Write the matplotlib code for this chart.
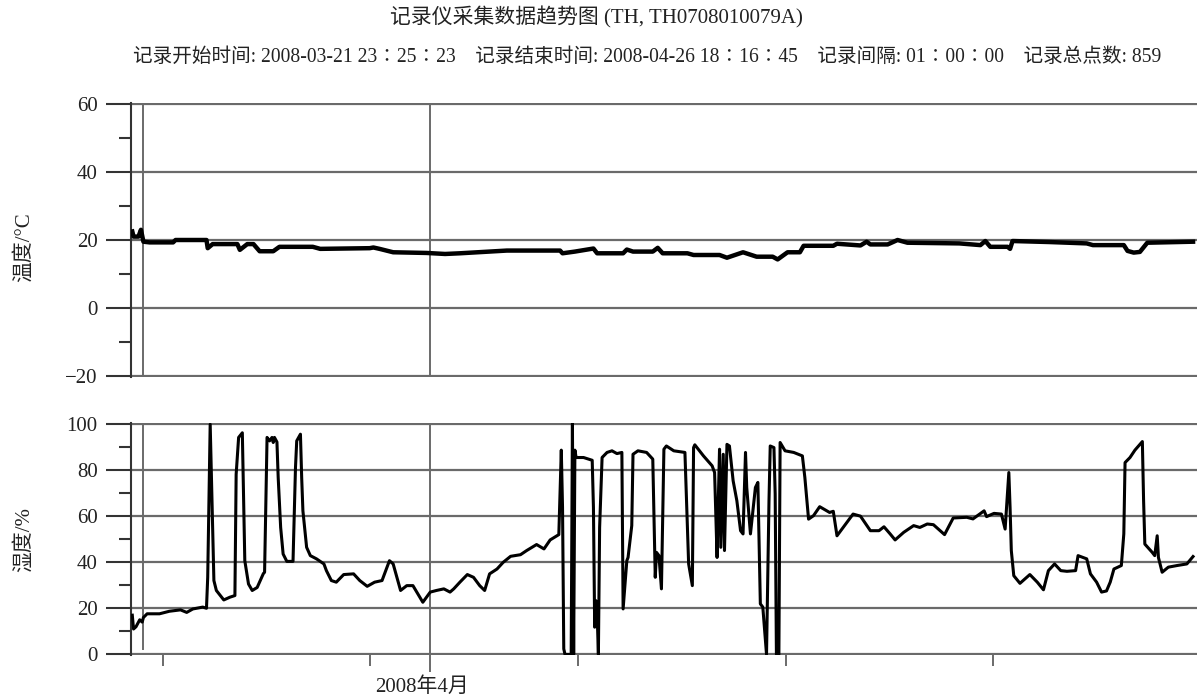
import datetime as dt
import matplotlib
matplotlib.use('Agg')
import matplotlib.pyplot as plt
import matplotlib.dates as mdates
import matplotlib.transforms as mtransforms
from matplotlib.ticker import MultipleLocator, FuncFormatter

plt.rcParams['font.family'] = ['Liberation Serif', 'Noto Sans CJK SC']

# record info
start = dt.datetime(2008, 3, 21, 23, 25, 23)
n_points = 859
cursor_hour = 8.4   # vertical marker line near the start

# temperature (hour index since start, value in °C)
temp_h = [0, 1, 5, 7, 9, 14, 33, 35, 60, 61,
          65, 85, 87, 93, 98, 103, 114, 119, 146, 152,
          192, 195, 200, 211, 238, 253, 265, 303, 346, 348,
          358, 373, 376, 397, 400, 405, 421, 425, 429, 449,
          454, 475, 481, 494, 505, 518, 522, 530, 540, 543,
          567, 570, 589, 594, 597, 611, 619, 627, 669, 686,
          690, 694, 708, 710, 712, 742, 772, 777, 802, 805,
          810, 815, 821, 858]
temp_v = [22.5, 21, 21, 23, 19.5, 19.3, 19.3, 20, 20, 17.6,
          18.8, 18.8, 17.1, 18.8, 18.8, 16.7, 16.7, 18, 18, 17.4,
          17.6, 17.8, 17.4, 16.4, 16.2, 15.9, 16.1, 16.9, 16.9, 16.1,
          16.6, 17.5, 16.1, 16.1, 17.2, 16.6, 16.6, 17.7, 16.1, 16.1,
          15.6, 15.6, 14.8, 16.4, 15.1, 15.1, 14.3, 16.4, 16.4, 18.3,
          18.3, 18.9, 18.4, 19.5, 18.7, 18.7, 20, 19.2, 19.0, 18.5,
          19.7, 18.0, 18.0, 17.4, 19.7, 19.4, 19.0, 18.5, 18.5, 16.8,
          16.3, 16.5, 19.2, 19.5]

# humidity (hour index since start, value in %)
hum_h = [0, 1, 3, 6, 8, 9, 12, 22, 30, 39,
         44, 49, 57, 60, 61, 63, 65, 66, 68, 74,
         79, 83, 84, 86, 89, 90, 91, 94, 97, 101,
         106, 107, 109, 111, 113, 114, 115, 117, 118, 120,
         122, 125, 130, 132, 133, 136, 137, 138, 141, 144,
         149, 155, 157, 161, 165, 171, 179, 184, 190, 196,
         202, 208, 211, 214, 217, 222, 227, 231, 235, 238,
         241, 246, 252, 257, 260, 265, 271, 276, 281, 285,
         289, 295, 300, 306, 314, 319, 327, 333, 338, 345,
         347, 348, 349, 350, 355, 356, 357, 358, 359, 365,
         372, 373, 374, 375, 376, 377, 378, 380, 384, 388,
         392, 396, 397, 400, 401, 404, 405, 409, 416, 421,
         423, 424, 426, 428, 430, 432, 438, 443, 447, 450,
         453, 454, 455, 462, 469, 471, 473, 474, 475, 476,
         478, 479, 481, 483, 486, 489, 492, 494, 496, 497,
         500, 504, 506, 508, 510, 513, 515, 516, 519, 520,
         521, 523, 524, 528, 535, 542, 544, 547, 551, 556,
         564, 567, 570, 575, 583, 589, 597, 604, 608, 613,
         617, 624, 632, 637, 643, 648, 657, 664, 675, 680,
         689, 691, 697, 703, 706, 709, 710, 711, 713, 718,
         726, 732, 737, 741, 746, 751, 756, 763, 765, 772,
         775, 780, 784, 788, 791, 794, 800, 802, 803, 807,
         811, 817, 818, 819, 825, 827, 829, 830, 833, 838,
         845, 853, 858]
hum_v = [17, 11, 12, 15, 14, 16, 17.6, 17.6, 18.7, 19.3,
         18.2, 19.7, 20.5, 20, 33.4, 99.7, 55, 32, 27.7, 23.6,
         24.8, 25.5, 78, 94, 96, 69, 40.6, 30.5, 27.7, 29,
         35, 35.6, 94, 92.5, 94, 91.8, 94, 92, 76.7, 55,
         43.5, 40.3, 40.3, 81, 92.5, 95.4, 76.7, 62.2, 46.4, 42.8,
         41.4, 39.2, 36.3, 32, 31.3, 34.6, 34.9, 32, 29.5, 31.3,
         32, 40.6, 39.2, 33.4, 27.7, 29.8, 29.8, 26.2, 22.6, 24.8,
         27, 27.7, 28.4, 27, 28.4, 31.3, 34.6, 33.4, 29.8, 27.7,
         34.9, 37, 39.9, 42.5, 43.2, 45, 47.6, 45.7, 49.6, 51.9,
         88.5, 63.7, 2.4, 0, 0, 100, 0, 88.5, 85.3, 85.3,
         84.1, 63.7, 11.8, 23.3, 17.6, 0, 55, 85.3, 87.5, 88.2,
         87, 87.5, 19.7, 40.6, 42, 55.8, 86.7, 88.2, 87.5, 84.6,
         33.4, 44.2, 42.8, 28.4, 88.9, 90.3, 88.2, 87.8, 87.5, 39.2,
         29.8, 89.6, 90.8, 86, 81.7, 78.8, 42, 66.6, 88.9, 46.4,
         86.7, 45, 91, 90.3, 75.2, 66.6, 53.6, 52.2, 87.5, 72.3,
         52.2, 72.3, 74.5, 21.9, 20.5, 0, 66.6, 90.3, 89.6, 69.5,
         0, 0, 91.8, 88.2, 87.5, 86, 76.7, 58.6, 60.1, 64,
         61.5, 62, 51.4, 55, 60.8, 59.9, 53.6, 53.6, 55.3, 52.2,
         49.6, 52.9, 55.8, 55, 56.5, 56.2, 51.9, 59.1, 59.4, 58.7,
         62.2, 59.7, 61.1, 60.8, 54.3, 78.8, 63.7, 45, 34.1, 30.8,
         34.6, 31.3, 28, 36.3, 39.2, 36.3, 36, 36.3, 42.8, 41.4,
         34.9, 31.3, 27, 27.5, 31.3, 37, 38.5, 52.2, 83.1, 85.3,
         88.5, 92.2, 66.6, 47.8, 44.2, 42.8, 51.4, 42, 35.6, 37.8,
         38.5, 39.2, 42.4]

title = '记录仪采集数据趋势图 (TH, TH0708010079A)'
subtitle = ('记录开始时间: 2008-03-21 23∶25∶23    记录结束时间: 2008-04-26 18∶16∶45    '
            '记录间隔: 01∶00∶00    记录总点数: 859')


def to_time(hours):
    return [start + dt.timedelta(hours=h) for h in hours]


grid_c = '#6a6a6a'
axis_c = '#333333'

fig = plt.figure(figsize=(12, 7), dpi=100)
ax1 = fig.add_axes([131 / 1200, 1 - 377 / 700, 1066 / 1200, 274 / 700])
ax2 = fig.add_axes([131 / 1200, 1 - 655 / 700, 1066 / 1200, 232 / 700])

x0 = start - dt.timedelta(hours=1.05)
x1 = start + dt.timedelta(hours=n_points - 1 + 3.2)
cursor = start + dt.timedelta(hours=cursor_hour)

ax1.plot(to_time(temp_h), temp_v, color='black', lw=3.2, solid_joinstyle='round', zorder=3)
ax2.plot(to_time(hum_h), hum_v, color='black', lw=2.2, solid_joinstyle='round', zorder=3)

ax1.set_ylim(-20.2, 60.2)
ax2.set_ylim(-0.25, 100.25)

for ax, step in ((ax1, 20), (ax2, 20)):
    ax.set_xlim(x0, x1)
    ax.yaxis.set_major_locator(MultipleLocator(step))
    ax.yaxis.set_minor_locator(MultipleLocator(step / 2))
    ax.xaxis.set_major_locator(mdates.MonthLocator(bymonthday=1))
    ax.xaxis.set_minor_locator(mdates.WeekdayLocator(byweekday=mdates.SU))
    ax.grid(axis='y', which='major', color=grid_c, lw=1.6)
    ax.grid(axis='x', which='major', color=grid_c, lw=1.4)
    ax.set_axisbelow(True)
    for s in ('top', 'right', 'bottom'):
        ax.spines[s].set_visible(False)
    ax.spines['left'].set_color(axis_c)
    ax.spines['left'].set_linewidth(1.5)
    ax.tick_params(axis='y', which='major', length=18, width=1.5, color=axis_c,
                   labelsize=15, pad=6, labelcolor='#222222')
    ax.tick_params(axis='y', which='minor', length=9, width=1.5, color=axis_c)

ax1.axvline(cursor, color=grid_c, lw=1.4, zorder=1)
ax2.axvline(cursor, ymin=0.025, color=grid_c, lw=1.4, zorder=1)

ax1.tick_params(axis='x', which='both', length=0, labelbottom=False)
ax2.tick_params(axis='x', which='major', length=12, width=1.4, color=grid_c,
                labelsize=15, pad=4, labelcolor='#222222')
ax2.tick_params(axis='x', which='minor', length=8, width=1.4, color=grid_c)
ax2.xaxis.set_major_formatter(FuncFormatter(
    lambda v, pos: '{}年{}月'.format(mdates.num2date(v).year, mdates.num2date(v).month)))

# month label sits a little left of its tick in the original
shift = mtransforms.ScaledTranslation(-8 / 100, 0, fig.dpi_scale_trans)
for t in ax2.xaxis.get_major_ticks():
    t.label1.set_transform(t.label1.get_transform() + shift)

ax1.set_ylabel('温度/°C', fontsize=15, color='#222222')
ax2.set_ylabel('湿度/%', fontsize=15, color='#222222')
ax1.yaxis.set_label_coords(-0.091, 0.475)
ax2.yaxis.set_label_coords(-0.091, 0.5)

fig.text(0.497, 0.975, title, ha='center', va='center', fontsize=15, color='#222222')
fig.text(0.539, 0.918, subtitle, ha='center', va='center', fontsize=14.1, color='#222222')

fig.savefig('out.png', dpi=100)
